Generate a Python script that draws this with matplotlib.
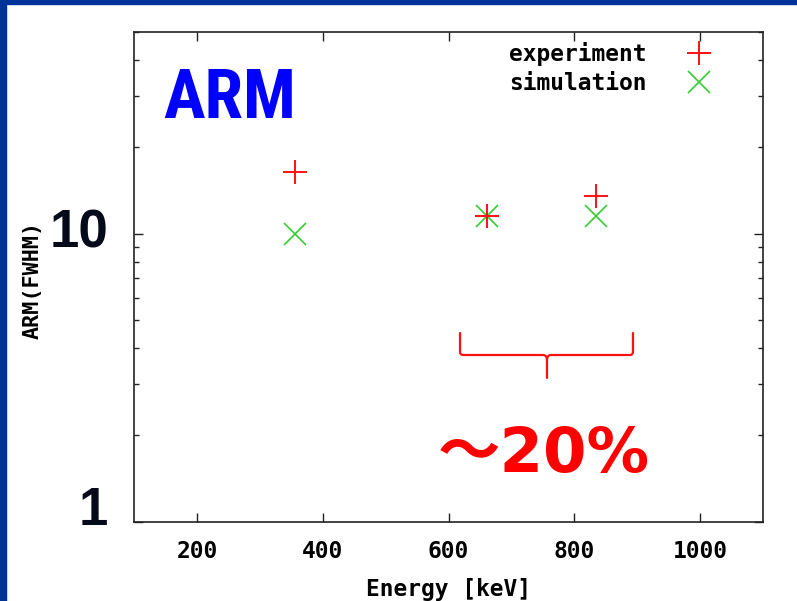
import matplotlib

matplotlib.use("Agg")
import matplotlib.pyplot as plt
import matplotlib.transforms as mtransforms
from matplotlib.patches import PathPatch, Rectangle
from matplotlib.path import Path
from matplotlib.ticker import FixedLocator, LogLocator, NullFormatter

# ─── Data ────────────────────────────────────────────────────────────────────

exp_energy = [356, 662, 835]  # keV
exp_arm = [16.4, 11.5, 13.5]
sim_energy = [356, 662, 835]
sim_arm = [10.0, 11.5, 11.5]

x_ticks = [200, 400, 600, 800, 1000]
y_labels = {10: "10", 1: "1"}

# ─── Style ───────────────────────────────────────────────────────────────────

SLIDE_BLUE = "#003399"
RED = "#ff1010"
GREEN = "#33cc33"
MONO = "DejaVu Sans Mono"
MONO_SIZE = 16.5
AXIS_COLOR = "#222222"
NARROW = ["Roboto Condensed", "Liberation Sans Narrow", "Liberation Sans"]

fig = plt.figure(figsize=(7.97, 6.01), dpi=100, facecolor="white")

# slide frame (left and top stripes)
fig.patches.append(Rectangle((0, 0), 6 / 797, 1, transform=fig.transFigure,
                             color=SLIDE_BLUE, zorder=0))
fig.patches.append(Rectangle((0, 1 - 4 / 601), 1, 4 / 601, transform=fig.transFigure,
                             color=SLIDE_BLUE, zorder=0))

ax = fig.add_axes([134 / 797, 1 - 522 / 601, 629 / 797, 490 / 601])
ax.set_yscale("log")
ax.set_xlim(100, 1100)
ax.set_ylim(1, 50)

# simulation first so the red crosses sit on top
ax.plot(sim_energy, sim_arm, linestyle="none", marker="x", markersize=16,
        mew=1.2, color=GREEN, label="simulation", zorder=3)
ax.plot(exp_energy, exp_arm, linestyle="none", marker="+", markersize=17,
        mew=1.4, color=RED, label="experiment", zorder=4)

# ticks
ax.xaxis.set_major_locator(FixedLocator(x_ticks))
ax.set_xticklabels([str(v) for v in x_ticks], family=MONO, weight="bold",
                   fontsize=MONO_SIZE)
ax.yaxis.set_major_locator(LogLocator(base=10))
ax.yaxis.set_minor_locator(LogLocator(base=10, subs=range(2, 10)))
ax.yaxis.set_major_formatter(NullFormatter())
ax.yaxis.set_minor_formatter(NullFormatter())
ax.tick_params(which="both", direction="in", top=True, right=True,
               color=AXIS_COLOR, width=1.0)
ax.tick_params(which="major", length=6.5)
ax.tick_params(which="minor", length=3.5)
ax.tick_params(axis="x", pad=13)
for spine in ax.spines.values():
    spine.set_color(AXIS_COLOR)
    spine.set_linewidth(1.2)

# big slide-style y labels
label_tf = mtransforms.blended_transform_factory(ax.transAxes, ax.transData)
ax.annotate(y_labels[10], xy=(-0.041, 10), xycoords=label_tf,
            ha="right", va="center", family="Liberation Sans", weight="bold",
            fontsize=38, color="#050a1a", annotation_clip=False)
ax.annotate(y_labels[1], xy=(-0.041, 1), xycoords=label_tf,
            xytext=(0, -3), textcoords="offset pixels",
            ha="right", va="baseline", family="Liberation Sans", weight="bold",
            fontsize=38, color="#050a1a", annotation_clip=False)

ax.set_xlabel("Energy [keV]", family=MONO, weight="bold", fontsize=MONO_SIZE,
              labelpad=11)
fig.text(33 / 797, 1 - 280 / 601, "ARM(FWHM)", rotation=90, ha="center",
         va="center", family=MONO, weight="bold", fontsize=MONO_SIZE * 0.95)

# legend
handles, labels = ax.get_legend_handles_labels()
ax.legend(handles[::-1], labels[::-1], loc="upper right",
          bbox_to_anchor=(0.935, 0.980), frameon=False, markerfirst=False,
          borderaxespad=0, borderpad=0, handlelength=2.0, handletextpad=1.3,
          labelspacing=0.27, prop={"family": MONO, "weight": "bold",
                                   "size": MONO_SIZE})

# titles on the slide
ax.text(0.046, 0.824, "ARM", transform=ax.transAxes, ha="left", va="baseline",
        family=NARROW, weight="bold", fontsize=50, color="#0000ff")
ax.text(0.483, 0.102, "～20%", transform=ax.transAxes, ha="left",
        va="baseline", family=["DejaVu Sans", "Noto Sans CJK JP"],
        weight="bold", fontsize=45, color="#ff0000")

# curly brace over 600-850 keV
bx0, bx1, bmid = 0.5183, 0.7933, 0.6566
by_top, by_line, by_tip = 0.3857, 0.3408, 0.2939
r = 0.0065
verts = [
    (bx0, by_top), (bx0, by_line + r), (bx0, by_line), (bx0 + 0.005, by_line),
    (bmid - 0.0064, by_line), (bmid, by_line), (bmid, by_line - 0.01),
    (bmid, by_tip),
    (bmid, by_line - 0.01), (bmid, by_line), (bmid + 0.0064, by_line),
    (bx1 - 0.005, by_line), (bx1, by_line), (bx1, by_line + r), (bx1, by_top),
]
codes = [
    Path.MOVETO, Path.LINETO, Path.CURVE3, Path.CURVE3,
    Path.LINETO, Path.CURVE3, Path.CURVE3,
    Path.LINETO,
    Path.MOVETO, Path.CURVE3, Path.CURVE3,
    Path.LINETO, Path.CURVE3, Path.CURVE3, Path.LINETO,
]
ax.add_patch(PathPatch(Path(verts, codes), transform=ax.transAxes,
                       facecolor="none", edgecolor=RED, lw=1.6,
                       capstyle="round", joinstyle="round", clip_on=False))

fig.savefig("out.png", dpi=100, facecolor="white")
